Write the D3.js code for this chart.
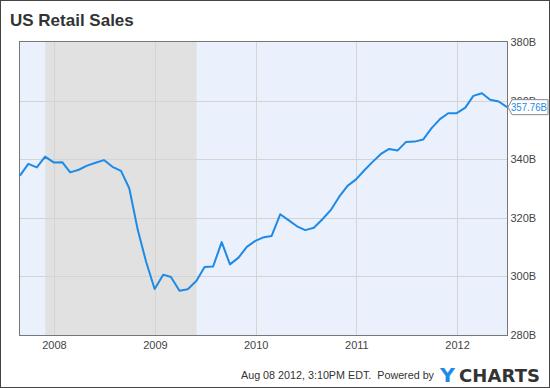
<!doctype html>
<html>
<head>
  <meta charset="utf-8" />
  <title>US Retail Sales</title>
  <script src="https://cdn.jsdelivr.net/npm/d3@7"></script>
  <style>
  html,body{margin:0;padding:0;background:#fff;}
  svg{display:block;font-family:"Liberation Sans",Arial,sans-serif;}
  </style>
</head>
<body>
<div id="chart"></div>
<script type="text/javascript">
// monthly retail sales, billions USD (month end dates)
var startMonth = "2007-08";
var sales = [334.4, 338.4, 337.2, 340.9, 338.9, 339.0, 335.5, 336.4, 337.8, 338.8,
             339.7, 337.4, 336.0, 330.1, 315.8, 305.0, 295.7, 300.6, 299.8, 295.1,
             295.6, 298.4, 303.2, 303.4, 311.7, 304.1, 306.4, 310.1, 312.1, 313.4,
             313.8, 321.2, 319.2, 317.1, 315.8, 316.6, 319.5, 322.6, 327.2, 330.9,
             333.1, 336.3, 339.0, 341.8, 343.5, 343.0, 345.9, 346.0, 346.7, 350.5,
             353.7, 355.7, 355.7, 357.6, 361.6, 362.5, 360.3, 359.7, 357.76];
var recession = ["2007-12-01", "2009-06-01"];
var yTicks = [280, 300, 320, 340, 360, 380];
var xTicks = ["2008", "2009", "2010", "2011", "2012"];
var lastLabel = "357.76B";

var W = 550, H = 388;
var m = {left: 20, right: 507, top: 42, bottom: 335};

var parseM = d3.timeParse("%Y-%m");
var s0 = parseM(startMonth);
var data = sales.map(function(v, i) {
  // month end
  var d = new Date(s0.getFullYear(), s0.getMonth() + i + 1, 0);
  return {date: d, value: v};
});

var x = d3.scaleTime()
  .domain(d3.extent(data, function(d) { return d.date; }))
  .range([m.left, m.right]);
var y = d3.scaleLinear().domain([280, 380]).range([m.bottom, m.top]);

var svg = d3.select("#chart").append("svg").attr("width", W).attr("height", H);

// outer frame
svg.append("rect").attr("x", 0.5).attr("y", 0.5).attr("width", W - 1).attr("height", H - 1)
  .attr("fill", "#fff").attr("stroke", "#444").attr("stroke-width", 1);

svg.append("text").attr("x", 10).attr("y", 26)
  .attr("font-size", 17).attr("font-weight", "bold").attr("fill", "#333")
  .text("US Retail Sales");

// plot bg
svg.append("rect").attr("x", m.left).attr("y", m.top - 1)
  .attr("width", m.right - m.left).attr("height", m.bottom - m.top + 1)
  .attr("fill", "#eaf0fc");

var pd = d3.timeParse("%Y-%m-%d");
svg.append("rect")
  .attr("x", x(pd(recession[0]))).attr("y", m.top - 1)
  .attr("width", x(pd(recession[1])) - x(pd(recession[0])))
  .attr("height", m.bottom - m.top + 1)
  .attr("fill", "#e1e1e1");

// grid
svg.append("g").selectAll("line").data(yTicks.slice(1, -1)).join("line")
  .attr("x1", m.left).attr("x2", m.right)
  .attr("y1", function(d) { return Math.round(y(d)) + 0.5; })
  .attr("y2", function(d) { return Math.round(y(d)) + 0.5; })
  .attr("stroke", "#d4d4d4");
var xt = xTicks.map(function(t) { return d3.timeParse("%Y")(t); });
svg.append("g").selectAll("line").data(xt).join("line")
  .attr("y1", m.top).attr("y2", m.bottom)
  .attr("x1", function(d) { return Math.round(x(d)) + 0.5; })
  .attr("x2", function(d) { return Math.round(x(d)) + 0.5; })
  .attr("stroke", "#d4d4d4");

// frame of plot
svg.append("rect").attr("x", m.left - 0.5).attr("y", m.top - 0.5)
  .attr("width", m.right - m.left + 1).attr("height", m.bottom - m.top + 1)
  .attr("fill", "none").attr("stroke", "#777");

// axes labels
var yAxis = d3.axisRight(y).tickValues(yTicks).tickSize(0).tickPadding(3)
  .tickFormat(function(d) { return d + "B"; });
var gy = svg.append("g").attr("transform", "translate(" + (m.right + 0.5) + ",0)").call(yAxis);
gy.select(".domain").remove();
gy.selectAll("text").attr("font-size", 11).attr("fill", "#444")
  .attr("font-family", "Liberation Sans, Arial, sans-serif");

var xAxis = d3.axisBottom(x).tickValues(xt).tickSize(0).tickPadding(6)
  .tickFormat(d3.timeFormat("%Y"));
var gx = svg.append("g").attr("transform", "translate(0," + m.bottom + ")").call(xAxis);
gx.select(".domain").remove();
gx.selectAll("text").attr("font-size", 11).attr("fill", "#444")
  .attr("font-family", "Liberation Sans, Arial, sans-serif");

// line
var line = d3.line()
  .x(function(d) { return x(d.date); })
  .y(function(d) { return y(d.value); });
svg.append("path").datum(data).attr("d", line)
  .attr("fill", "none").attr("stroke", "#1e8ae6").attr("stroke-width", 2)
  .attr("stroke-linejoin", "round");

// last value flag
var ly = y(sales[sales.length - 1]);
var fx = m.right + 1;
svg.append("path")
  .attr("d", "M" + fx + "," + ly + " L" + (fx + 4) + "," + (ly - 7.5) + " H548 V" + (ly + 7.5) + " H" + (fx + 4) + " Z")
  .attr("fill", "#fff").attr("stroke", "#888");
svg.append("text").attr("x", fx + 3).attr("y", ly + 4)
  .attr("font-size", 10.5).attr("fill", "#1e8ae6")
  .attr("textLength", 36).attr("lengthAdjust", "spacingAndGlyphs")
  .text(lastLabel);

// footer
svg.append("text").attr("x", 241).attr("y", 379).attr("font-size", 11.5).attr("fill", "#333")
  .style("white-space", "pre")
  .attr("textLength", 193).attr("lengthAdjust", "spacingAndGlyphs")
  .text("Aug 08 2012, 3:10PM EDT.  Powered by");
svg.append("text").attr("x", 440).attr("y", 382)
  .attr("font-size", 20).attr("font-weight", "bold").attr("fill", "#1e8ae6")
  .attr("font-family", "DejaVu Sans, sans-serif")
  .attr("textLength", 15).attr("lengthAdjust", "spacingAndGlyphs")
  .text("Y");
svg.append("text").attr("x", 459).attr("y", 382)
  .attr("font-size", 18).attr("font-weight", "bold").attr("fill", "#333")
  .attr("font-family", "DejaVu Sans, sans-serif")
  .attr("textLength", 81).attr("lengthAdjust", "spacing")
  .text("CHARTS");
</script>
</body>
</html>
